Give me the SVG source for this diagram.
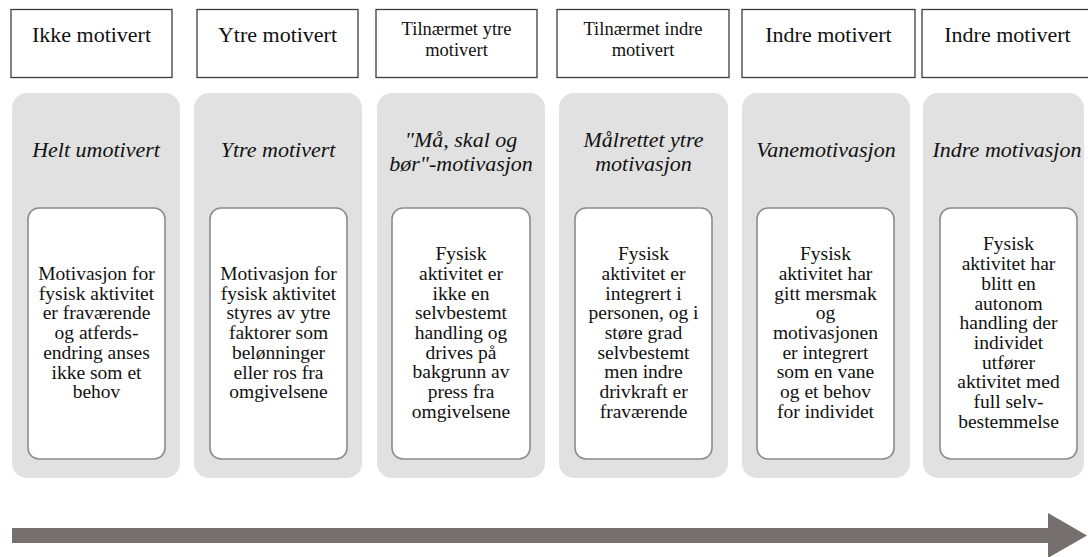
<svg xmlns="http://www.w3.org/2000/svg" width="1088" height="557" viewBox="0 0 1088 557" font-family="'Liberation Serif','Times New Roman',serif">
<style>
.hdr{fill:#fff;stroke:#3c3c3c;stroke-width:1.3}
.panel{fill:#e1e1e1}
.inner{fill:#fff;stroke:#8c8c8c;stroke-width:1.6}
text{font-family:"Liberation Serif","Times New Roman",serif;fill:#111;text-anchor:middle}
.h1{font-size:22px}
.h2{font-size:18.5px}
.t{font-size:22px;font-style:italic}
.b{font-size:19.5px}
</style>
<rect width="1088" height="557" fill="#fff"/>
<g id="col1">
<rect class="hdr" x="11" y="9.5" width="161" height="68"/>
<text class="h1" x="91.5" y="42">Ikke motivert</text>
<rect class="panel" x="12" y="93" width="168" height="385" rx="15"/>
<text class="t" x="96" y="157">Helt umotivert</text>
<rect class="inner" x="28" y="208" width="137" height="251" rx="11"/>
<text class="b" x="96.5" y="280"><tspan x="96.5">Motivasjon for</tspan><tspan x="96.5" dy="19.7">fysisk aktivitet</tspan><tspan x="96.5" dy="19.7">er fraværende</tspan><tspan x="96.5" dy="19.7">og atferds-</tspan><tspan x="96.5" dy="19.7">endring anses</tspan><tspan x="96.5" dy="19.7">ikke som et</tspan><tspan x="96.5" dy="19.7">behov</tspan></text>
</g>
<g id="col2">
<rect class="hdr" x="197" y="9.5" width="161" height="68"/>
<text class="h1" x="277.5" y="42">Ytre motivert</text>
<rect class="panel" x="194" y="93" width="168" height="385" rx="15"/>
<text class="t" x="278" y="157">Ytre motivert</text>
<rect class="inner" x="210" y="208" width="137" height="251" rx="11"/>
<text class="b" x="278.5" y="280"><tspan x="278.5">Motivasjon for</tspan><tspan x="278.5" dy="19.7">fysisk aktivitet</tspan><tspan x="278.5" dy="19.7">styres av ytre</tspan><tspan x="278.5" dy="19.7">faktorer som</tspan><tspan x="278.5" dy="19.7">belønninger</tspan><tspan x="278.5" dy="19.7">eller ros fra</tspan><tspan x="278.5" dy="19.7">omgivelsene</tspan></text>
</g>
<g id="col3">
<rect class="hdr" x="376" y="9.5" width="161" height="68"/>
<text class="h2" x="456.5" y="35"><tspan x="456.5">Tilnærmet ytre</tspan><tspan x="456.5" dy="21">motivert</tspan></text>
<rect class="panel" x="377" y="93" width="168" height="385" rx="15"/>
<text class="t" x="461" y="147"><tspan x="461">"Må, skal og</tspan><tspan x="461" dy="23.5">bør"-motivasjon</tspan></text>
<rect class="inner" x="392" y="208" width="138" height="251" rx="11"/>
<text class="b" x="461" y="260.2"><tspan x="461">Fysisk</tspan><tspan x="461" dy="19.7">aktivitet er</tspan><tspan x="461" dy="19.7">ikke en</tspan><tspan x="461" dy="19.7">selvbestemt</tspan><tspan x="461" dy="19.7">handling og</tspan><tspan x="461" dy="19.7">drives på</tspan><tspan x="461" dy="19.7">bakgrunn av</tspan><tspan x="461" dy="19.7">press fra</tspan><tspan x="461" dy="19.7">omgivelsene</tspan></text>
</g>
<g id="col4">
<rect class="hdr" x="557" y="9.5" width="172" height="68"/>
<text class="h2" x="643" y="35"><tspan x="643">Tilnærmet indre</tspan><tspan x="643" dy="21">motivert</tspan></text>
<rect class="panel" x="559" y="93" width="169" height="385" rx="15"/>
<text class="t" x="643.5" y="147"><tspan x="643.5">Målrettet ytre</tspan><tspan x="643.5" dy="23.5">motivasjon</tspan></text>
<rect class="inner" x="575" y="208" width="137" height="251" rx="11"/>
<text class="b" x="643.5" y="260.2"><tspan x="643.5">Fysisk</tspan><tspan x="643.5" dy="19.7">aktivitet er</tspan><tspan x="643.5" dy="19.7">integrert i</tspan><tspan x="643.5" dy="19.7">personen, og i</tspan><tspan x="643.5" dy="19.7">støre grad</tspan><tspan x="643.5" dy="19.7">selvbestemt</tspan><tspan x="643.5" dy="19.7">men indre</tspan><tspan x="643.5" dy="19.7">drivkraft er</tspan><tspan x="643.5" dy="19.7">fraværende</tspan></text>
</g>
<g id="col5">
<rect class="hdr" x="742" y="9.5" width="173" height="68"/>
<text class="h1" x="828.5" y="42">Indre motivert</text>
<rect class="panel" x="742" y="93" width="168" height="385" rx="15"/>
<text class="t" x="826" y="157">Vanemotivasjon</text>
<rect class="inner" x="757" y="208" width="137" height="251" rx="11"/>
<text class="b" x="825.5" y="260.2"><tspan x="825.5">Fysisk</tspan><tspan x="825.5" dy="19.7">aktivitet har</tspan><tspan x="825.5" dy="19.7">gitt mersmak</tspan><tspan x="825.5" dy="19.7">og</tspan><tspan x="825.5" dy="19.7">motivasjonen</tspan><tspan x="825.5" dy="19.7">er integrert</tspan><tspan x="825.5" dy="19.7">som en vane</tspan><tspan x="825.5" dy="19.7">og et behov</tspan><tspan x="825.5" dy="19.7">for individet</tspan></text>
</g>
<g id="col6">
<rect class="hdr" x="922" y="9.5" width="172" height="68"/>
<text class="h1" x="1007.5" y="42">Indre motivert</text>
<rect class="panel" x="923" y="93" width="161" height="385" rx="15"/>
<text class="t" x="1007" y="157">Indre motivasjon</text>
<rect class="inner" x="940" y="208" width="137" height="251" rx="11"/>
<text class="b" x="1008.5" y="250.4"><tspan x="1008.5">Fysisk</tspan><tspan x="1008.5" dy="19.7">aktivitet har</tspan><tspan x="1008.5" dy="19.7">blitt en</tspan><tspan x="1008.5" dy="19.7">autonom</tspan><tspan x="1008.5" dy="19.7">handling der</tspan><tspan x="1008.5" dy="19.7">individet</tspan><tspan x="1008.5" dy="19.7">utfører</tspan><tspan x="1008.5" dy="19.7">aktivitet med</tspan><tspan x="1008.5" dy="19.7">full selv-</tspan><tspan x="1008.5" dy="19.7">bestemmelse</tspan></text>
</g>
<g id="connectors">
<polygon points="12,528 1048,528 1048,513 1087,535.5 1048,558 1048,543 12,543" fill="#75706e"/>
</g>
</svg>
